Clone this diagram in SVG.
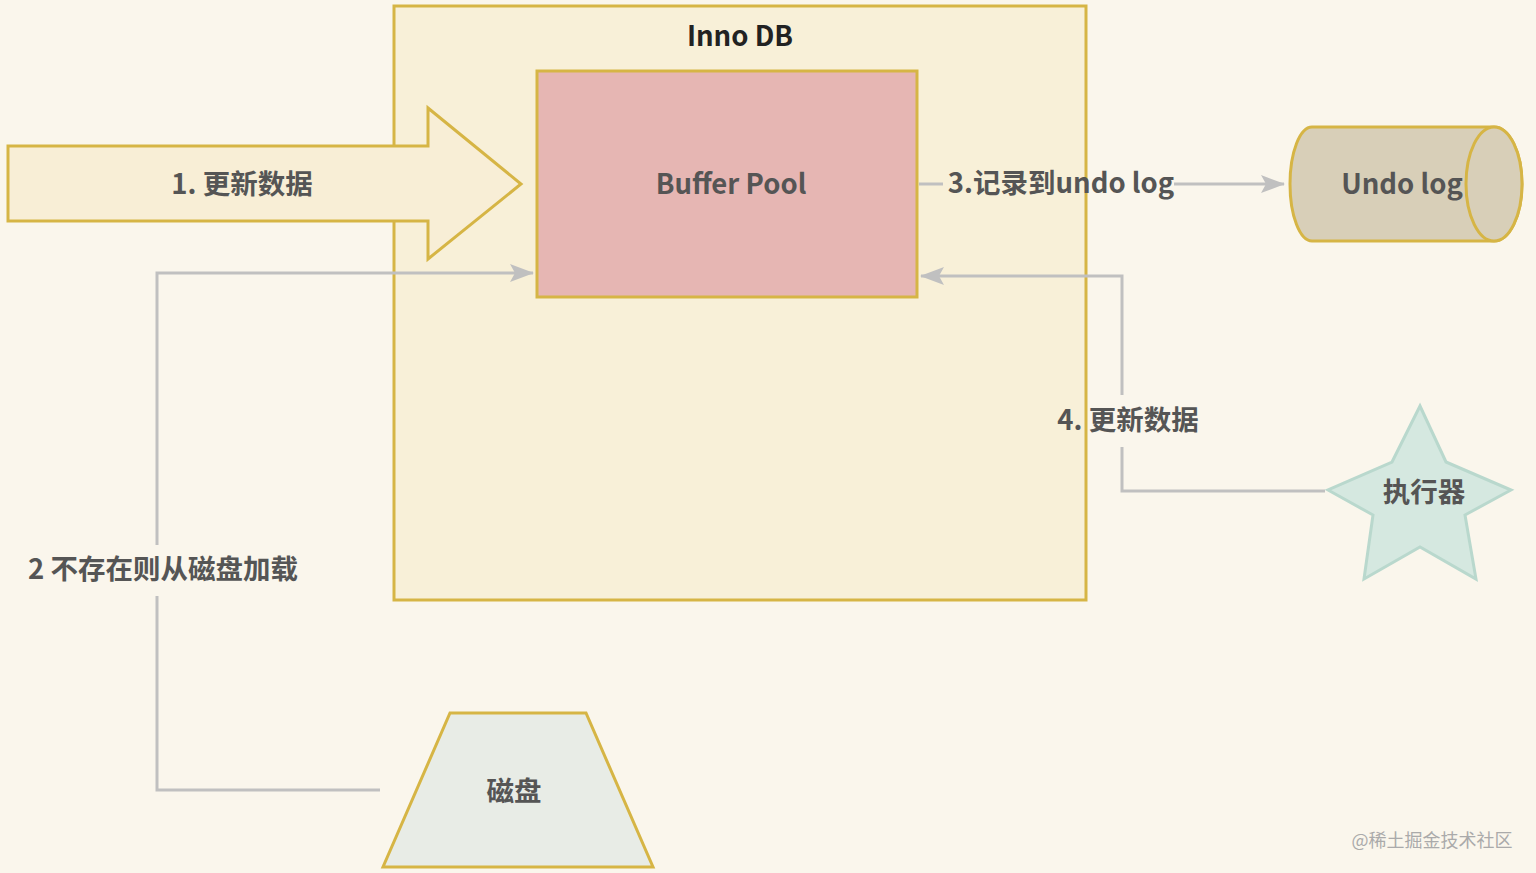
<svg xmlns="http://www.w3.org/2000/svg" width="1536" height="873" viewBox="0 0 1536 873">
<style>
.shape{stroke:#d6b545;stroke-width:3}
.lbl{font-family:"Noto Sans CJK SC","Liberation Sans",sans-serif;font-weight:bold;font-size:27.5px;fill:#555;text-anchor:middle;dominant-baseline:central}
.conn{fill:none;stroke:#c0c0c0;stroke-width:3}
</style>
<defs>
<marker id="arr" markerWidth="24" markerHeight="18" refX="23" refY="9" orient="auto" markerUnits="userSpaceOnUse">
<path d="M0,0 L24,9 L0,18 L5,9 z" fill="#c0c0c0"/>
</marker>
</defs>
<rect width="1536" height="873" fill="#faf6ec"/>
<g id="innodb">
<rect class="shape" x="394" y="6" width="692" height="594" fill="#f8f0d8"/>
<text class="lbl" x="740" y="34" style="fill:#222">Inno DB</text>
</g>
<g id="buffer-pool">
<rect class="shape" x="537" y="71" width="380" height="226" fill="#e6b6b3"/>
<text class="lbl" x="731" y="182">Buffer Pool</text>
</g>
<g id="update-arrow">
<polygon class="shape" points="8,146 428,146 428,108 521,184 428,259 428,221 8,221" fill="#f8eed6"/>
<text class="lbl" x="242" y="182">1. 更新数据</text>
</g>
<g id="undo-log">
<path class="shape" d="M1312,127 L1494,127 A28,57 0 0 1 1494,241 L1312,241 A22,57 0 0 1 1312,127 Z" fill="#d8cfb8"/>
<ellipse class="shape" cx="1494" cy="184" rx="28" ry="57" fill="#d8cfb8"/>
<text class="lbl" x="1402" y="182">Undo log</text>
</g>
<g id="executor">
<polygon points="1420,406 1446,462 1511,490 1465,515 1476,579 1420,547 1364,579 1373,515 1328,490 1392,462" fill="#d5e8e0" stroke="#b9d8cd" stroke-width="3"/>
<text class="lbl" x="1424" y="490">执行器</text>
</g>
<g id="disk">
<polygon class="shape" points="450,713 586,713 653,867 383,867" fill="#e8ece6"/>
<text class="lbl" x="514" y="789">磁盘</text>
</g>
<g id="connectors">
<path class="conn" d="M919,184 L943,184"/>
<path class="conn" d="M1174,184 L1284,184" marker-end="url(#arr)"/>
<text class="lbl" x="1061" y="181">3.记录到undo log</text>
<path class="conn" d="M1325,491 L1122,491 L1122,447"/>
<path class="conn" d="M1122,395 L1122,276 L921,276" marker-end="url(#arr)"/>
<text class="lbl" x="1128" y="418">4. 更新数据</text>
<path class="conn" d="M380,790 L157,790 L157,596"/>
<path class="conn" d="M157,545 L157,273 L533,273" marker-end="url(#arr)"/>
<text class="lbl" x="163" y="567">2 不存在则从磁盘加载</text>
</g>
<text x="1432" y="839" style="font-family:'Noto Sans CJK SC',sans-serif;font-size:18px;fill:#aaa;text-anchor:middle;dominant-baseline:central">@稀土掘金技术社区</text>
</svg>
